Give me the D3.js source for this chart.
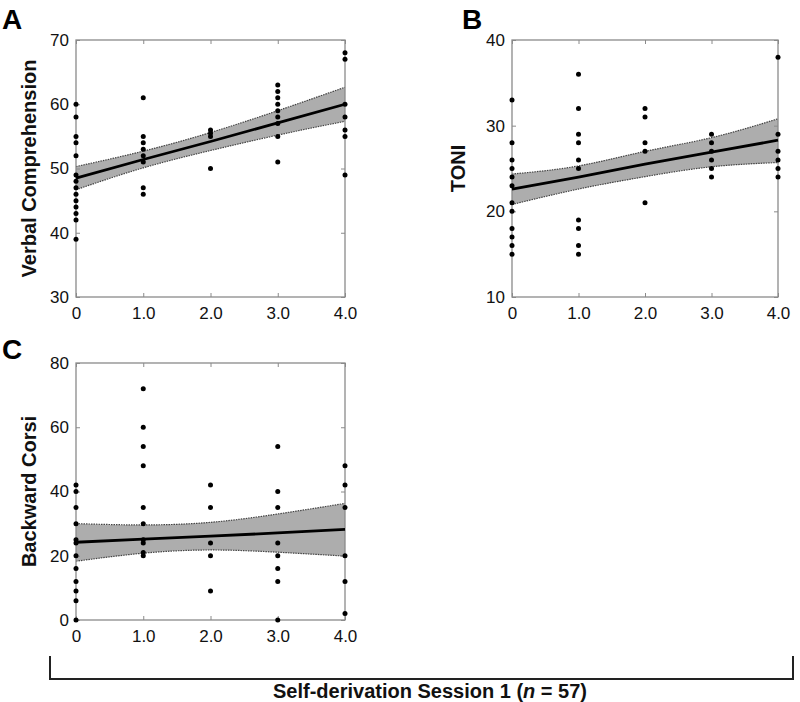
<!DOCTYPE html>
<html><head><meta charset="utf-8">
<script src="https://cdn.jsdelivr.net/npm/d3@7"></script>
<style>body{margin:0;background:#fff}svg{display:block}</style>
</head><body>
<svg id="c" width="800" height="702"></svg>
<script>
// ---- data ----
const xTicks = [0, 1, 2, 3, 4];
const xTickLabels = ["0", "1.0", "2.0", "3.0", "4.0"];

// Panel A: Verbal Comprehension
const vcX = [0,0,0,0,0,0,0,0,0,0,0,0,0,0, 1,1,1,1,1,1,1,1, 2,2,2,2, 3,3,3,3,3,3,3,3,3, 4,4,4,4,4,4,4];
const vcY = [60,58,55,54,52,49,48,47,46,45,44,43,42,39, 61,55,54,53,52,51,47,46, 56,55.5,55,50, 63,62,61,60,59,58,57,55,51, 68,67,60,58,56,55,49];
const vcFit = [48.5, 51.4, 54.2, 57.1, 60.0];
const vcUpper = [50.3, 52.7, 55.6, 59.0, 62.65];
const vcLower = [46.7, 50.1, 52.8, 55.2, 57.35];
const vcTicks = [30, 40, 50, 60, 70];

// Panel B: TONI
const toniX = [0,0,0,0,0,0,0,0,0,0,0,0, 1,1,1,1,1,1,1,1,1,1, 2,2,2,2,2, 3,3,3,3,3,3, 4,4,4,4,4,4];
const toniY = [33,28,26,25,24,23,21,20,18,17,16,15, 36,32,29,28,26,25,19,18,16,15, 32,31,28,27,21, 29,28,27,26,25,24, 38,29,27,26,25,24];
const toniFit = [22.6, 24.0, 25.5, 26.9, 28.3];
const toniUpper = [24.35, 25.3, 27.0, 28.6, 30.8];
const toniLower = [20.8, 22.6, 24.05, 25.2, 25.7];
const toniTicks = [10, 20, 30, 40];

// Panel C: Backward Corsi
const bcX = [0,0,0,0,0,0,0,0,0,0,0,0, 1,1,1,1,1,1,1,1,1,1, 2,2,2,2,2, 3,3,3,3,3,3,3,3, 4,4,4,4,4,4];
const bcY = [42,40,35,30,25,24,20,16,12,9,6,0, 72,60,54,48,35,30,25,24,21,20, 42,35,24,20,9, 54,40,35,24,20,16,12,0, 48,42,35,20,12,2];
const bcFit = [24.2, 25.2, 26.1, 27.1, 28.2];
const bcUpper = [30.0, 29.6, 30.4, 33.0, 36.3];
const bcLower = [18.3, 20.8, 21.8, 21.1, 19.9];
const bcTicks = [0, 20, 40, 60, 80];

const panels = [
  {letter:"A", label:"Verbal Comprehension", xs:vcX, ys:vcY, fit:vcFit, up:vcUpper, lo:vcLower, ticks:vcTicks, dom:[30,70],
   left:76, top:40, right:345, bottom:297, lx:2, ly:29, labX:29},
  {letter:"B", label:"TONI", xs:toniX, ys:toniY, fit:toniFit, up:toniUpper, lo:toniLower, ticks:toniTicks, dom:[10,40],
   left:512, top:40, right:778, bottom:297, lx:462, ly:29, labX:458},
  {letter:"C", label:"Backward Corsi", xs:bcX, ys:bcY, fit:bcFit, up:bcUpper, lo:bcLower, ticks:bcTicks, dom:[0,80],
   left:76, top:363, right:345, bottom:620, lx:2, ly:359, labX:29}
];

const svg = d3.select("#c");
const font = "Liberation Sans, Arial, sans-serif";

panels.forEach(p => {
  const x = d3.scaleLinear().domain([0,4]).range([p.left, p.right]);
  const y = d3.scaleLinear().domain(p.dom).range([p.bottom, p.top]);
  const g = svg.append("g");

  // band
  const band = xTicks.map((v,i)=>({x:v, up:p.up[i], lo:p.lo[i], fit:p.fit[i]}));
  g.append("path").datum(band)
    .attr("d", d3.area().x(d=>x(d.x)).y0(d=>y(d.lo)).y1(d=>y(d.up)).curve(d3.curveNatural))
    .attr("fill", "#adadad");
  ["up","lo"].forEach(k => {
    g.append("path").datum(band)
      .attr("d", d3.line().x(d=>x(d.x)).y(d=>y(d[k])).curve(d3.curveNatural))
      .attr("fill","none").attr("stroke","#444").attr("stroke-width",1.2).attr("stroke-dasharray","1.5,1");
  });

  // frame
  g.append("rect").attr("x",p.left).attr("y",p.top).attr("width",p.right-p.left).attr("height",p.bottom-p.top)
    .attr("fill","none").attr("stroke","#8a8a8a").attr("stroke-width",1.3);

  // axes (MATLAB-style inward ticks)
  const tk = 4;
  const ax = d3.axisBottom(x).tickValues(xTicks).tickFormat((d,i)=>xTickLabels[i]).tickSizeInner(-tk).tickSizeOuter(0).tickPadding(8);
  const axG = g.append("g").attr("transform",`translate(0,${p.bottom})`).call(ax);
  const axT = g.append("g").attr("transform",`translate(0,${p.top})`).call(d3.axisTop(x).tickValues(xTicks).tickFormat("").tickSizeInner(-tk).tickSizeOuter(0));
  const ay = d3.axisLeft(y).tickValues(p.ticks).tickFormat(d3.format("d")).tickSizeInner(-tk).tickSizeOuter(0).tickPadding(7);
  const ayG = g.append("g").attr("transform",`translate(${p.left},0)`).call(ay);
  const ayR = g.append("g").attr("transform",`translate(${p.right},0)`).call(d3.axisRight(y).tickValues(p.ticks).tickFormat("").tickSizeInner(-tk).tickSizeOuter(0));
  [axG, axT, ayG, ayR].forEach(a => {
    a.select(".domain").remove();
    a.selectAll("line").attr("stroke","#8a8a8a");
    a.selectAll("text").attr("font-family",font).attr("font-size",17).attr("fill","#111");
  });
  axG.selectAll("text").attr("dy","0.85em");

  // points
  g.selectAll("circle.pt").data(p.xs.map((v,i)=>[v,p.ys[i]])).join("circle")
    .attr("cx",d=>x(d[0])).attr("cy",d=>y(d[1])).attr("r",2.5).attr("fill","#000");

  // fit line
  g.append("path").datum(band)
    .attr("d", d3.line().x(d=>x(d.x)).y(d=>y(d.fit)))
    .attr("fill","none").attr("stroke","#000").attr("stroke-width",2.8);

  // labels
  g.append("text").attr("transform",`translate(${p.labX},${(p.top+p.bottom)/2}) rotate(-90)`)
    .attr("text-anchor","middle").attr("dy","0.35em")
    .attr("font-family",font).attr("font-weight","bold").attr("font-size",20).attr("fill","#111").text(p.label);
  g.append("text").attr("x",p.lx).attr("y",p.ly)
    .attr("font-family",font).attr("font-weight","bold").attr("font-size",28).attr("fill","#000").text(p.letter);
});

// bracket
svg.append("path").attr("d","M50,656 V679 H793 V656").attr("fill","none").attr("stroke","#222").attr("stroke-width",2);
const t = svg.append("text").attr("x",430).attr("y",698).attr("text-anchor","middle")
  .attr("font-family",font).attr("font-weight","bold").attr("font-size",20).attr("fill","#111");
t.append("tspan").text("Self-derivation Session 1 (");
t.append("tspan").attr("font-style","italic").text("n");
t.append("tspan").text(" = 57)");
</script>
</body></html>
